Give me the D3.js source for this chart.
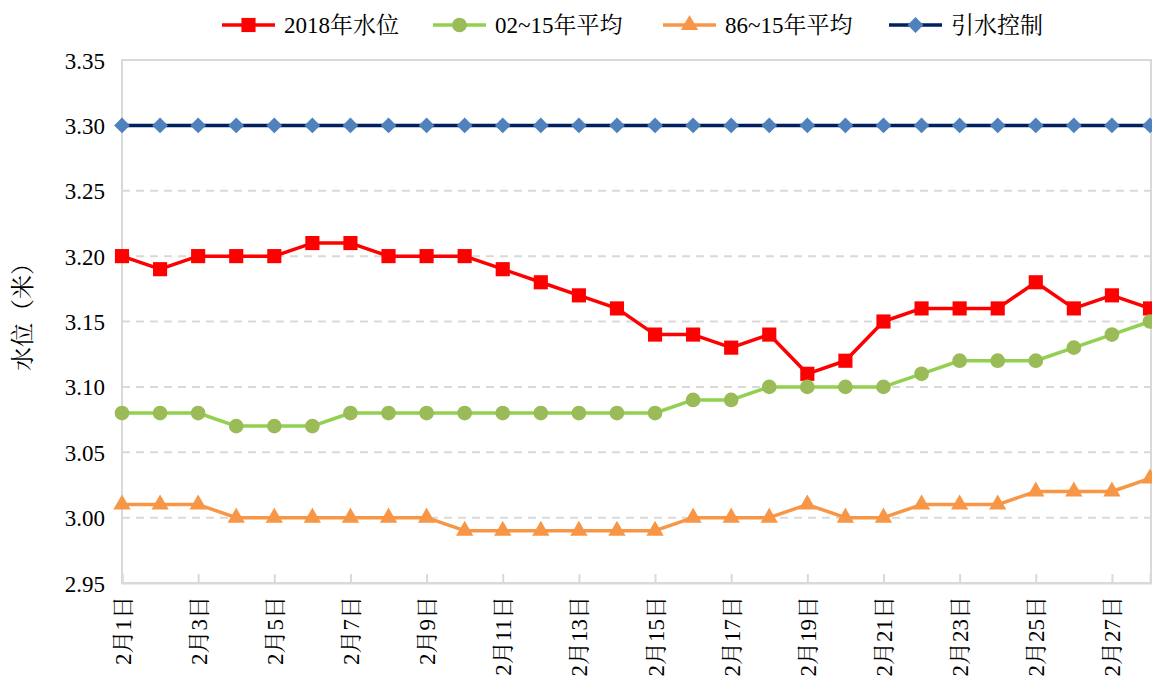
<!DOCTYPE html>
<html><head><meta charset="utf-8">
<script src="https://cdn.jsdelivr.net/npm/d3@7"></script>
<style>
body{margin:0;background:#fff;}
</style></head>
<body><svg id="c" width="1152" height="681"></svg>
<script>
const days = d3.range(1, 29);
const dayLabels = days.map(d => "2月" + d + "日");
const yTicks = [2.95,3.00,3.05,3.10,3.15,3.20,3.25,3.30,3.35];
const seriesNames = ["2018年水位","02~15年平均","86~15年平均","引水控制"];
const level2018 = [3.20,3.19,3.20,3.20,3.20,3.21,3.21,3.20,3.20,3.20,3.19,3.18,3.17,3.16,3.14,3.14,3.13,3.14,3.11,3.12,3.15,3.16,3.16,3.16,3.18,3.16,3.17,3.16];
const avg0215 = [3.08,3.08,3.08,3.07,3.07,3.07,3.08,3.08,3.08,3.08,3.08,3.08,3.08,3.08,3.08,3.09,3.09,3.10,3.10,3.10,3.10,3.11,3.12,3.12,3.12,3.13,3.14,3.15];
const avg8615 = [3.01,3.01,3.01,3.00,3.00,3.00,3.00,3.00,3.00,2.99,2.99,2.99,2.99,2.99,2.99,3.00,3.00,3.00,3.01,3.00,3.00,3.01,3.01,3.01,3.02,3.02,3.02,3.03];
const control = [3.30,3.30,3.30,3.30,3.30,3.30,3.30,3.30,3.30,3.30,3.30,3.30,3.30,3.30,3.30,3.30,3.30,3.30,3.30,3.30,3.30,3.30,3.30,3.30,3.30,3.30,3.30,3.30];

const FONT = "'Liberation Serif', 'Times New Roman', Times, 'Noto Serif CJK SC', 'Noto Sans CJK SC', serif";
const styles = [
  {line:"#FF0000", mk:"#FF0000", sym:d3.symbolSquare, size:200, rot:0},
  {line:"#92D050", mk:"#9BBB59", sym:d3.symbolCircle, size:170, rot:0},
  {line:"#F79646", mk:"#F79646", sym:d3.symbolTriangle, size:130, rot:0},
  {line:"#002060", mk:"#4F81BD", sym:d3.symbolSquare, size:125, rot:45}
];
const allData = [level2018, avg0215, avg8615, control];

const svg = d3.select("#c");
const L=122, R=1151, T=60, B=583;
const x = d3.scaleLinear().domain([1,28]).range([L,1150]);
const y = d3.scaleLinear().domain([2.95,3.35]).range([B,T]);

// gridlines
svg.append("g").selectAll("line").data(yTicks.filter(v=>v>2.951 && v<3.349)).join("line")
  .attr("x1",L).attr("x2",R).attr("y1",d=>y(d)).attr("y2",d=>y(d))
  .attr("stroke","#D9D9D9").attr("stroke-width",2).attr("stroke-dasharray","8,6");
// border
svg.append("rect").attr("x",L).attr("y",T).attr("width",R-L).attr("height",B-T)
  .attr("fill","none").attr("stroke","#D9D9D9").attr("stroke-width",2);

// y axis
const ya = d3.axisLeft(y).tickValues(yTicks).tickFormat(d3.format(".2f")).tickSize(0).tickPadding(17);
const yg = svg.append("g").attr("transform",`translate(${L},0)`).call(ya);
yg.attr("font-family",null);
yg.select(".domain").remove();
yg.selectAll("text").style("font-family",FONT).style("font-size","23px").attr("dy","0.35em");

// x axis
const xa = d3.axisBottom(x).tickValues(days.filter(d=>d%2===1)).tickFormat(d=>dayLabels[d-1]).tickSize(-9).tickPadding(0);
const xg = svg.append("g").attr("transform",`translate(0,${B})`).call(xa);
xg.attr("font-family",null);
xg.select(".domain").attr("stroke","#D9D9D9").attr("stroke-width",2);
xg.selectAll(".tick line").attr("stroke","#D9D9D9").attr("stroke-width",2);
xg.selectAll("text").style("font-family",FONT).style("font-size","23px")
  .attr("transform","rotate(-90)").attr("text-anchor","end")
  .attr("x",-13).attr("y",0).attr("dy","0.35em");

// y title
svg.append("text").attr("transform","translate(23,311) rotate(-90)")
  .attr("text-anchor","middle").attr("dy","0.35em")
  .style("font-family",FONT).style("font-size","24px").text("水位（米）");

// series
const lineGen = d3.line().x((d,i)=>x(days[i])).y(d=>y(d));
allData.forEach((data,k)=>{
  const s=styles[k];
  const g=svg.append("g");
  g.append("path").datum(data).attr("d",lineGen).attr("fill","none")
    .attr("stroke",s.line).attr("stroke-width",3.5).attr("stroke-linejoin","round");
  g.selectAll("path.m").data(data).join("path").attr("class","m")
    .attr("d",d3.symbol().type(s.sym).size(s.size))
    .attr("transform",(d,i)=>`translate(${x(days[i])},${y(d)}) rotate(${s.rot})`)
    .attr("fill",s.mk);
});

// legend
const legX=[222,433,663,889];
const lg = svg.append("g");
seriesNames.forEach((n,k)=>{
  const s=styles[k], g=lg.append("g").attr("transform",`translate(${legX[k]},25)`);
  g.append("line").attr("x1",0).attr("x2",53).attr("stroke",s.line).attr("stroke-width",3.5);
  g.append("path").attr("d",d3.symbol().type(s.sym).size(s.size)).attr("transform",`translate(26.5,0) rotate(${s.rot})`).attr("fill",s.mk);
  g.append("text").attr("x",62).attr("dy","0.35em")
    .style("font-family",FONT).style("font-size","23px").text(n);
});
</script></body></html>
